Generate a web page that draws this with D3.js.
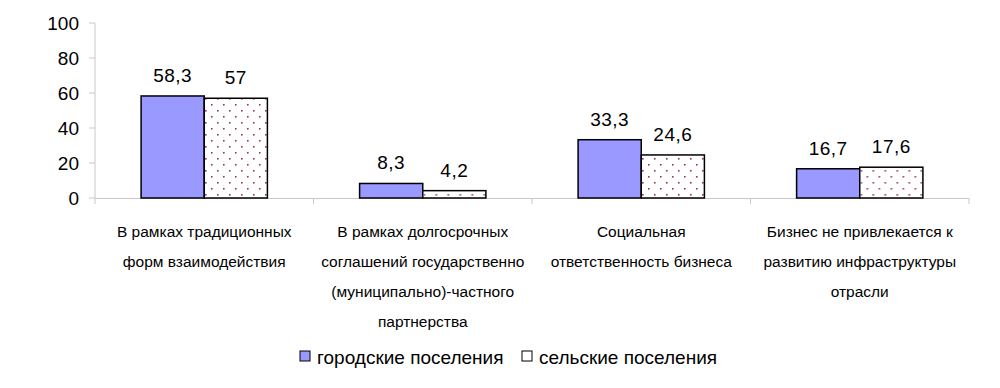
<!DOCTYPE html>
<html>
<head>
<meta charset="utf-8">
<script src="https://cdn.jsdelivr.net/npm/d3@7"></script>
<style>
  body { margin: 0; background: #fff; }
  text { font-family: "Liberation Sans", Arial, sans-serif; fill: #000; }
</style>
</head>
<body>
<script>
// data
var categories = [
  ["В рамках традиционных", "форм взаимодействия"],
  ["В рамках долгосрочных", "соглашений государственно", "(муниципально)-частного", "партнерства"],
  ["Социальная", "ответственность бизнеса"],
  ["Бизнес не привлекается к", "развитию  инфраструктуры", "отрасли"]
];
var urban = [58.3, 8.3, 33.3, 16.7];
var rural = [57, 4.2, 24.6, 17.6];
var seriesNames = ["городские поселения", "сельские поселения"];
var yTicks = [0, 20, 40, 60, 80, 100];

var w = 1000, h = 388;
var svg = d3.select("body").append("svg")
            .attr("width", w)
            .attr("height", h);

var defs = svg.append("defs");
var pat = defs.append("pattern")
              .attr("id", "dots")
              .attr("patternUnits", "userSpaceOnUse")
              .attr("width", 12)
              .attr("height", 12);
pat.append("rect").attr("width", 12).attr("height", 12).attr("fill", "#fff");
pat.append("rect").attr("x", 2).attr("y", 2).attr("width", 1.6).attr("height", 1.6).attr("fill", "#993366");
pat.append("rect").attr("x", 8).attr("y", 8).attr("width", 1.6).attr("height", 1.6).attr("fill", "#993366");

var x0 = d3.scaleBand().domain(d3.range(categories.length)).range([95, 969]).paddingInner(0).paddingOuter(0);
var y = d3.scaleLinear().domain([0, 100]).range([198, 23]);
var x1 = d3.scaleBand().domain([0, 1]).range([0, x0.bandwidth()]).paddingOuter(0.73).paddingInner(0);

var axisColor = "#c8c8c8";

// y axis
svg.append("line")
   .attr("x1", 95).attr("x2", 95)
   .attr("y1", y(100)).attr("y2", y(0))
   .attr("stroke", axisColor);
svg.selectAll(".ytick")
   .data(yTicks)
   .enter().append("line")
   .attr("x1", 89).attr("x2", 95)
   .attr("y1", function(d) { return y(d); })
   .attr("y2", function(d) { return y(d); })
   .attr("stroke", axisColor);
svg.selectAll(".ylab")
   .data(yTicks)
   .enter().append("text")
   .attr("x", 79)
   .attr("y", function(d) { return y(d) + 7; })
   .attr("text-anchor", "end")
   .style("font-size", "19px")
   .text(function(d) { return d; });

// x axis
svg.append("line")
   .attr("x1", 95).attr("x2", 969)
   .attr("y1", y(0) + 0.5).attr("y2", y(0) + 0.5)
   .attr("stroke", axisColor);
svg.selectAll(".xtick")
   .data(d3.range(categories.length + 1))
   .enter().append("line")
   .attr("x1", function(d) { return d < categories.length ? x0(d) : x0(d - 1) + x0.bandwidth(); })
   .attr("x2", function(d) { return d < categories.length ? x0(d) : x0(d - 1) + x0.bandwidth(); })
   .attr("y1", y(0)).attr("y2", y(0) + 6)
   .attr("stroke", axisColor);

// bars
var rows = categories.map(function(c, i) { return [urban[i], rural[i]]; });
var groups = svg.selectAll(".grp")
   .data(rows)
   .enter().append("g")
   .attr("transform", function(d, i) { return "translate(" + x0(i) + ",0)"; });

groups.selectAll("rect")
   .data(function(d) { return d; })
   .enter().append("rect")
   .attr("x", function(d, j) { return x1(j); })
   .attr("y", function(d) { return y(d); })
   .attr("width", x1.bandwidth())
   .attr("height", function(d) { return y(0) - y(d); })
   .attr("fill", function(d, j) { return j === 0 ? "#9999ff" : "url(#dots)"; })
   .attr("stroke", "#000")
   .attr("stroke-width", 1.5);

groups.selectAll(".val")
   .data(function(d) { return d; })
   .enter().append("text")
   .attr("x", function(d, j) { return x1(j) + x1.bandwidth() / 2; })
   .attr("y", function(d) { return y(d) - 14; })
   .attr("text-anchor", "middle")
   .style("font-size", "19px")
   .style("letter-spacing", "0.5px")
   .text(function(d) { return String(d).replace(".", ","); });

// category labels
svg.selectAll(".cat")
   .data(categories)
   .enter().append("text")
   .attr("text-anchor", "middle")
   .style("font-size", "15.5px")
   .each(function(lines, i) {
     d3.select(this).selectAll("tspan")
       .data(lines)
       .enter().append("tspan")
       .attr("x", x0(i) + x0.bandwidth() / 2)
       .attr("y", function(d, k) { return 237 + k * 30; })
       .text(function(d) { return d; });
   });

// legend
var legend = [{ x: 300, fill: "#9999ff" }, { x: 522, fill: "#fff" }];
svg.selectAll(".lg")
   .data(legend)
   .enter().append("rect")
   .attr("x", function(d) { return d.x; })
   .attr("y", 351)
   .attr("width", 10).attr("height", 10)
   .attr("fill", function(d) { return d.fill; })
   .attr("stroke", "#000")
   .attr("stroke-width", 1);
svg.selectAll(".lgt")
   .data(legend)
   .enter().append("text")
   .attr("x", function(d) { return d.x + 17; })
   .attr("y", 364)
   .style("font-size", "19px")
   .text(function(d, i) { return seriesNames[i]; });
</script>
</body>
</html>
